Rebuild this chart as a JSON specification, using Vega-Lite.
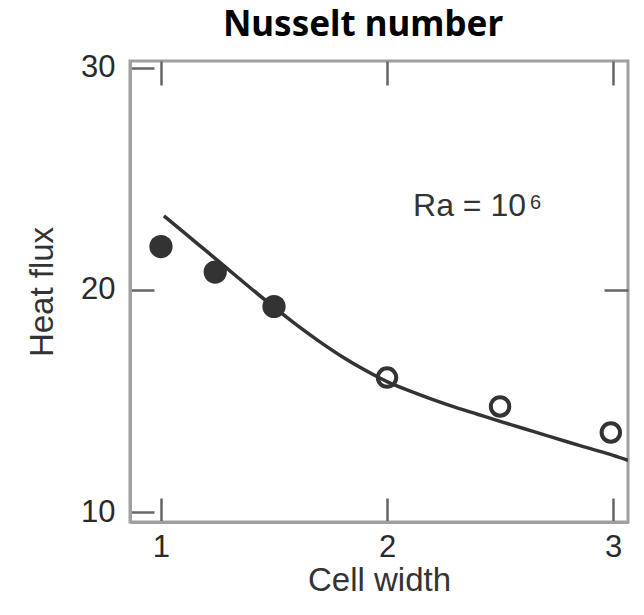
{
  "$schema": "https://vega.github.io/schema/vega-lite/v6.json",
  "width": 498,
  "height": 461,
  "autosize": {"type": "none"},
  "padding": {"left": 130, "top": 61, "right": 16, "bottom": 93},
  "background": "white",
  "title": {
    "text": "Nusselt number",
    "font": "Noto Sans",
    "fontSize": 35,
    "fontWeight": "bold",
    "color": "black",
    "baseline": "alphabetic",
    "anchor": "middle",
    "frame": "group",
    "offset": 24,
    "dx": -16,
    "dy": 43
  },
  "config": {
    "view": {"stroke": "#a0a0a0", "strokeWidth": 3},
    "axis": {
      "labelFont": "Liberation Sans",
      "titleFont": "Liberation Sans",
      "labelColor": "#2a2a2a",
      "titleColor": "#333",
      "labelFontSize": 31,
      "titleFontSize": 33,
      "titleFontWeight": "normal",
      "domainColor": "#a0a0a0",
      "domainWidth": 3,
      "tickColor": "#666",
      "tickWidth": 2.5,
      "grid": false,
      "minExtent": 0
    }
  },
  "datasets": {
    "curve": [
      {"w": 1.013, "q": 23.33},
      {"w": 1.1, "q": 22.6},
      {"w": 1.2, "q": 21.75},
      {"w": 1.3, "q": 20.9},
      {"w": 1.4, "q": 20.05},
      {"w": 1.5, "q": 19.22},
      {"w": 1.6, "q": 18.42},
      {"w": 1.7, "q": 17.68},
      {"w": 1.8, "q": 17.0},
      {"w": 1.9, "q": 16.4},
      {"w": 2.0, "q": 15.87},
      {"w": 2.1, "q": 15.45},
      {"w": 2.2, "q": 15.07},
      {"w": 2.3, "q": 14.72},
      {"w": 2.4, "q": 14.4},
      {"w": 2.5, "q": 14.08},
      {"w": 2.6, "q": 13.77},
      {"w": 2.7, "q": 13.46},
      {"w": 2.8, "q": 13.15},
      {"w": 2.9, "q": 12.85},
      {"w": 3.0, "q": 12.55},
      {"w": 3.066, "q": 12.33}
    ],
    "points": [
      {"w": 1.0, "q": 21.95, "kind": "filled"},
      {"w": 1.24, "q": 20.8, "kind": "filled"},
      {"w": 1.5, "q": 19.25, "kind": "filled"},
      {"w": 2.0, "q": 16.05, "kind": "open"},
      {"w": 2.5, "q": 14.75, "kind": "open"},
      {"w": 2.99, "q": 13.58, "kind": "open"}
    ],
    "labels": [
      {"w": 2.115, "q": 23.76, "text": "Ra = 10", "part": "base"},
      {"w": 2.633, "q": 23.9, "text": "6", "part": "sup"}
    ]
  },
  "resolve": {"axis": {"x": "independent", "y": "independent"}},
  "layer": [
    {
      "data": {"name": "curve"},
      "mark": {"type": "line", "color": "#333", "strokeWidth": 3.5, "interpolate": "monotone", "clip": true},
      "encoding": {
        "x": {
          "field": "w", "type": "quantitative",
          "scale": {"domain": [0.863, 3.066], "nice": false, "zero": false},
          "axis": {"orient": "bottom", "values": [1, 2, 3], "title": "Cell width", "tickSize": -24, "labelPadding": 34, "titlePadding": 2}
        },
        "y": {
          "field": "q", "type": "quantitative",
          "scale": {"domain": [9.55, 30.3], "nice": false, "zero": false},
          "axis": {"orient": "left", "values": [10, 20, 30], "title": "Heat flux", "tickSize": -24, "labelPadding": 39, "titlePadding": 21}
        }
      }
    },
    {
      "data": {"name": "points"},
      "transform": [{"filter": "datum.kind === 'filled'"}],
      "mark": {"type": "point", "shape": "circle", "filled": true, "color": "#333", "size": 540, "opacity": 1},
      "encoding": {
        "x": {"field": "w", "type": "quantitative", "axis": {"orient": "top", "values": [1, 2, 3], "labels": false, "title": null, "domain": false, "tickSize": -24}},
        "y": {"field": "q", "type": "quantitative", "axis": {"orient": "right", "values": [20], "labels": false, "title": null, "domain": false, "tickSize": -24}}
      }
    },
    {
      "data": {"name": "points"},
      "transform": [{"filter": "datum.kind === 'open'"}],
      "mark": {"type": "point", "shape": "circle", "filled": false, "color": "#333", "strokeWidth": 4, "size": 340, "opacity": 1},
      "encoding": {
        "x": {"field": "w", "type": "quantitative", "axis": null},
        "y": {"field": "q", "type": "quantitative", "axis": null}
      }
    },
    {
      "data": {"name": "labels"},
      "transform": [{"filter": "datum.part === 'base'"}],
      "mark": {"type": "text", "font": "Liberation Sans", "fontSize": 32, "color": "#333", "align": "left", "baseline": "middle"},
      "encoding": {
        "x": {"field": "w", "type": "quantitative", "axis": null},
        "y": {"field": "q", "type": "quantitative", "axis": null},
        "text": {"field": "text"}
      }
    },
    {
      "data": {"name": "labels"},
      "transform": [{"filter": "datum.part === 'sup'"}],
      "mark": {"type": "text", "font": "Liberation Sans", "fontSize": 20, "color": "#333", "align": "left", "baseline": "middle"},
      "encoding": {
        "x": {"field": "w", "type": "quantitative", "axis": null},
        "y": {"field": "q", "type": "quantitative", "axis": null},
        "text": {"field": "text"}
      }
    }
  ]
}
